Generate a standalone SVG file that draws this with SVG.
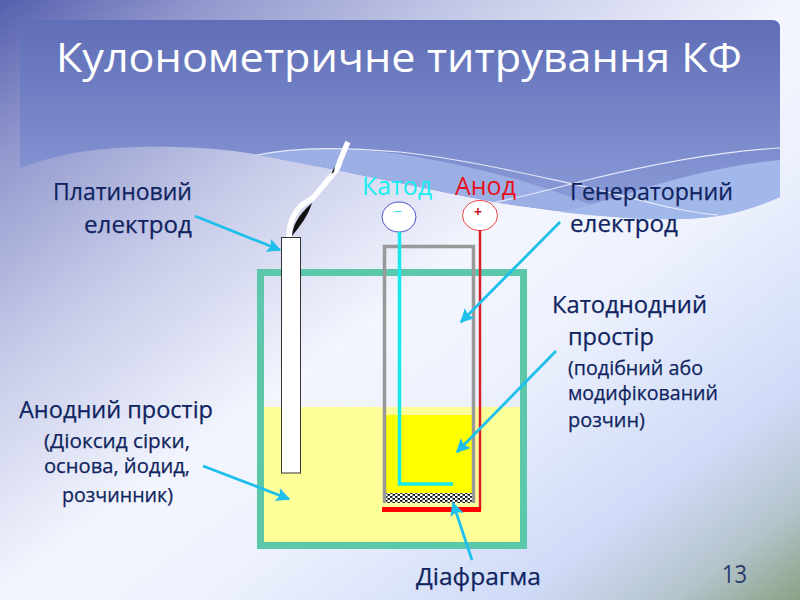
<svg xmlns="http://www.w3.org/2000/svg" width="800" height="600" viewBox="0 0 800 600">
<style>
text{font-family:"Open Sans","Noto Sans",sans-serif;fill:#0f2460;font-size:24px;stroke:#0f2460;stroke-width:.25}
.s{font-size:19.5px}
.c{stroke:#1fbfec;stroke-width:2.8;fill:none;marker-end:url(#a)}
.w{fill:none;stroke:#e4e9fa;stroke-width:1.2}
</style>
<defs>
<linearGradient id="bg" x1="0" y1="0" x2="1" y2="1"><stop offset="0" stop-color="#5560ae"/><stop offset="0.13" stop-color="#9298cd"/><stop offset="0.3" stop-color="#c6cae8"/><stop offset="0.5" stop-color="#f3f6fe"/><stop offset="0.62" stop-color="#eef2fd"/><stop offset="0.82" stop-color="#d0dbf8"/><stop offset="0.92" stop-color="#b4c4cc"/><stop offset="1" stop-color="#8aa184"/></linearGradient>
<linearGradient id="pn" gradientUnits="userSpaceOnUse" x1="400" y1="20" x2="400" y2="210"><stop offset="0" stop-color="#5f6eb6"/><stop offset="1" stop-color="#8c9bd8"/></linearGradient>
<pattern id="dots" width="5" height="4" patternUnits="userSpaceOnUse"><rect width="5" height="4" fill="#fff"/><rect x="0" y="0" width="2.500" height="1.800" fill="#111"/><rect x="2.500" y="2" width="2.500" height="1.800" fill="#111"/></pattern>
<marker id="a" markerWidth="5" markerHeight="5" refX="4.500" refY="2.500" orient="auto"><path d="M0 0L5 2.500L0 5L1 2.500Z" fill="#1fbfec"/></marker>
</defs>
<g id="background">
<rect width="800" height="600" fill="url(#bg)"/>
<path d="M20 28Q20 20 28 20H772Q780 20 780 28V197C750 210 725 216 700 218C650 222 580 215 500 203C430 190 350 172 260 155C220 148 180 146 140 147C90 148 55 155 20 168Z" fill="url(#pn)"/>
<path d="M257 155C300 146 350 148 400 154C450 162 510 175 565 195C590 205 610 212 640 218C590 215 540 209 500 203C430 190 350 172 257 155Z" fill="#9cafe5"/>
<path d="M560 212C620 200 680 170 780 160V197C750 210 725 216 700 218C650 222 600 216 560 212Z" fill="#a3b8ea"/>
<path class="w" d="M257 155C300 146 350 148 400 152C470 160 530 175 587 187C640 200 680 212 718 215"/>
<path class="w" d="M493 203C530 195 560 187 587 180C640 167 710 152 780 148"/>
</g>
<g id="cell">
<rect x="264" y="407" width="256" height="135" fill="#ffff99"/>
<rect x="386" y="415" width="87" height="78" fill="#ffff00"/>
<rect x="386" y="493" width="87" height="10" fill="url(#dots)"/>
<rect x="260.500" y="272.500" width="263" height="273" fill="none" stroke="#5cc8aa" stroke-width="7"/>
</g>
<g id="diaphragm"><path d="M384.500 503V246.500H473.500V503" fill="none" stroke="#999" stroke-width="3.500"/></g>
<g id="platinum">
<rect x="281.500" y="237.500" width="19" height="235.500" fill="#fff" stroke="#333" stroke-width="1"/>
<path d="M289 237C289 226 291 215 302 205C307 201 310 200 313 198L333 174C337 170 339 165 340 161C343 154 345 148 348 142" fill="none" stroke="#fff" stroke-width="5.500"/>
<path d="M292 236C293 226 297 216 312 203C308 216 300 226 292 236Z" fill="#111"/>
<path d="M331 174L335 166L334 172Z" fill="#111"/>
</g>
<g id="cathode">
<ellipse cx="399" cy="217" rx="17" ry="15" fill="#fff" stroke="#4a50c8" stroke-width="1"/>
<text x="393.500" y="217" style="fill:#40d8f0;stroke:none;font-size:15px">−</text>
<path d="M399.500 232V484H453" fill="none" stroke="#18e8e8" stroke-width="3.500"/>
<text x="362" y="195" textLength="70" lengthAdjust="spacingAndGlyphs" style="fill:#18eef2;stroke:none;font-size:25px">Катод</text>
</g>
<g id="anode">
<ellipse cx="480" cy="215.500" rx="17.500" ry="15" fill="#fff" stroke="#ee4444" stroke-width="1"/>
<text x="474" y="217" style="fill:#cc1122;stroke:none;font-size:14px;font-weight:bold">+</text>
<path d="M480 230V510" fill="none" stroke="#d8202c" stroke-width="2.500"/>
<path d="M382 509.500H481" stroke="#ff0000" stroke-width="5"/>
<text x="455" y="195" textLength="61" lengthAdjust="spacingAndGlyphs" style="fill:#e8101c;stroke:none;font-size:25px">Анод</text>
</g>
<g id="connectors">
<path class="c" d="M195 216L280 250"/>
<path class="c" d="M560 222L461 322"/>
<path class="c" d="M556 351L457 452"/>
<path class="c" d="M203 466L289 499"/>
<path class="c" d="M472 560L453 503"/>
</g>
<g id="labels">
<text x="56" y="72" textLength="686" lengthAdjust="spacingAndGlyphs" style="fill:#fff;stroke:none;font-size:41px">Кулонометричне титрування КФ</text>
<text x="53" y="200" textLength="139" lengthAdjust="spacingAndGlyphs">Платиновий</text>
<text x="84" y="233" textLength="108" lengthAdjust="spacingAndGlyphs">електрод</text>
<text x="570" y="200" textLength="163" lengthAdjust="spacingAndGlyphs">Генераторний</text>
<text x="570" y="232" textLength="108" lengthAdjust="spacingAndGlyphs">електрод</text>
<text x="552" y="313" textLength="155" lengthAdjust="spacingAndGlyphs">Катоднодний</text>
<text x="568" y="345" textLength="86" lengthAdjust="spacingAndGlyphs">простір</text>
<text class="s" x="568" y="375" textLength="135" lengthAdjust="spacingAndGlyphs">(подібний або</text>
<text class="s" x="568" y="400" textLength="150" lengthAdjust="spacingAndGlyphs">модифікований</text>
<text class="s" x="568" y="427" textLength="77" lengthAdjust="spacingAndGlyphs">розчин)</text>
<text x="19" y="418" textLength="194" lengthAdjust="spacingAndGlyphs">Анодний простір</text>
<text class="s" x="44" y="448" textLength="146" lengthAdjust="spacingAndGlyphs">(Діоксид сірки,</text>
<text class="s" x="44" y="473" textLength="146" lengthAdjust="spacingAndGlyphs">основа, йодид,</text>
<text class="s" x="62" y="502" textLength="111" lengthAdjust="spacingAndGlyphs">розчинник)</text>
<text x="416" y="585" textLength="125" lengthAdjust="spacingAndGlyphs">Діафрагма</text>
<text x="722" y="583" textLength="25" lengthAdjust="spacingAndGlyphs" style="font-size:26px;fill:#2a3a6c;stroke:none">13</text>
</g>
</svg>
